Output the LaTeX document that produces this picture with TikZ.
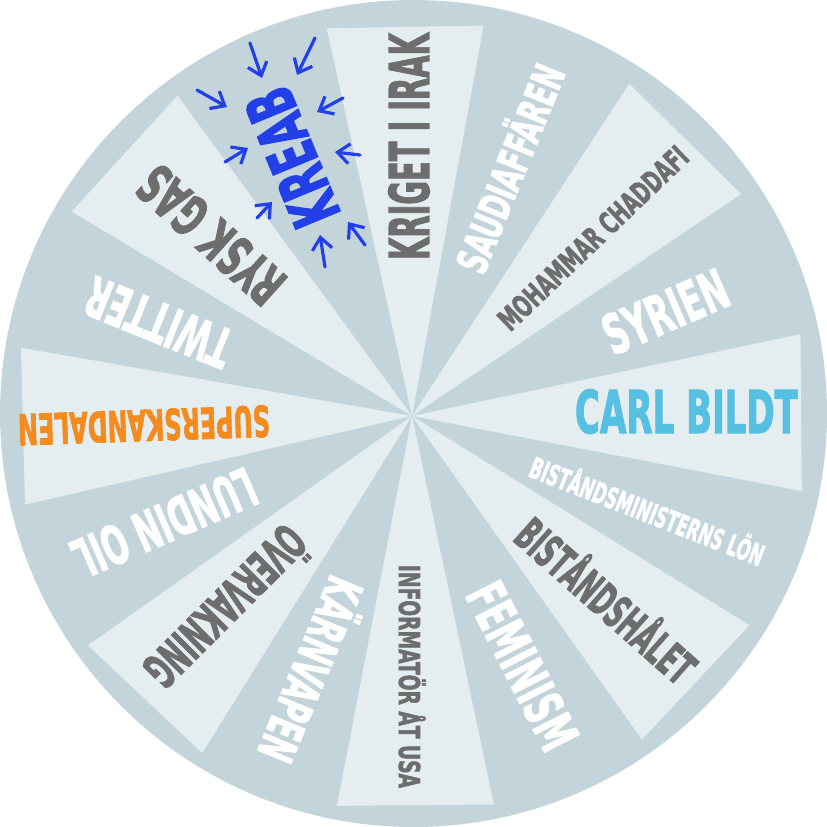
\documentclass[tikz,border=0pt]{standalone}
\usepackage{fontspec}
\usepackage{graphicx}
\usetikzlibrary{arrows.meta}
\newfontfamily\wheelfont{DejaVu Sans Condensed Bold}[FakeBold=2.2]

\definecolor{ringgrey}{HTML}{C3D5DB}
\definecolor{wedgelight}{HTML}{E4EDF0}
\definecolor{textgrey}{HTML}{6D6D6D}
\definecolor{bildtblue}{HTML}{56C0E2}
\definecolor{scandalorange}{HTML}{F38B1F}
\definecolor{kreabblue}{HTML}{2340E8}

% label squeezed to a given length, box height = cap height
\newcommand{\wheeltext}[3]{\resizebox{#1}{\height}{\fontsize{#2}{#2}\wheelfont\raisebox{0pt}[\fontcharht\font`H][0pt]{#3}}}

\begin{document}
\begin{tikzpicture}[
    x=0.5pt, y=0.5pt,
    wedge/.style={fill=wedgelight},
    lbl/.style={inner sep=0pt, anchor=center},
    hint/.style={
        -{Straight Barb[length=6pt, width=10pt]},
        line width=1.6pt, line cap=round, draw=kreabblue
    }
]

\useasboundingbox (-413.5,-413.5) rectangle (413.5,413.5);

\fill[ringgrey] (0,0) circle (413.5);
\coordinate (hub) at (-1.5,-2.5);

% light wedges
\foreach \ang in {0.5, 45.4, 91, 137.6, 181.5, 226.7, 270.5, 316.8}
    \fill[wedge, shift={(hub)}] (0,0) -- (\ang-11.4:397) -- (\ang+11.4:397) -- cycle;

% topics
\foreach \nm/\px/\py/\rot/\len/\fs/\col/\txt in {
    irak/-4.5/267/90/113.5/27.4/textgrey/KRIGET I IRAK,
    saudi/97/245/67.9/110/21.3/white/SAUDIAFFÄREN,
    chaddafi/179.5/175.5/43.8/125/15.1/textgrey/MOHAMMAR CHADDAFI,
    syrien/252/102/23.4/65.5/27.4/white/SYRIEN,
    bildt/273/2/0/111.5/29.5/bildtblue/CARL BILDT,
    lon/233.5/-98/-21.3/124.5/14.4/white/BISTÅNDSMINISTERNS LÖN,
    hal/192/-187.5/-41.5/111/22.6/textgrey/BISTÅNDSHÅLET,
    feminism/109/-252.5/-63/90/26.8/white/FEMINISM,
    usa/-4/-263/-90/111.5/14.4/textgrey/INFORMATÖR ÅT USA,
    karnvapen/-103/-256/247.5/97.5/24.7/white/KÄRNVAPEN,
    overvakning/-188.5/-192.5/225/102.5/24/textgrey/ÖVERVAKNING,
    lundin/-249/-109.5/203.5/97.5/26.8/white/LUNDIN OIL,
    skandal/-269.5/-12/182/126/21.3/scandalorange/SUPERSKANDALEN,
    twitter/-255/91/158/76.5/27.4/white/TWITTER,
    gas/-202.5/178.5/138/88/27.4/textgrey/RYSK GAS,
    kreab/-121.5/256/112.5/71.5/32.9/kreabblue/KREAB}
    \node[lbl, rotate=\rot, text=\col] (\nm) at (\px,\py) {\wheeltext{\len pt}{\fs pt}{\txt}};

% arrows round KREAB
\foreach \ax/\ay/\bx/\by in {
    -163.5/370.5/-151.5/335.5, -98.5/375.5/-116.5/338.5,
    -216.5/323.5/-186.5/306.5, -70.5/315.5/-96.5/301.5,
    -188.5/251.5/-165.5/265.5, -53.5/258.5/-78.5/261.5,
    -156.5/195.5/-141.5/211.5, -48.5/168.5/-65.5/191.5,
    -88.5/146.5/-93.5/178.5}
    \draw[hint] (\ax,\ay) -- (\bx,\by);

\end{tikzpicture}
\end{document}
